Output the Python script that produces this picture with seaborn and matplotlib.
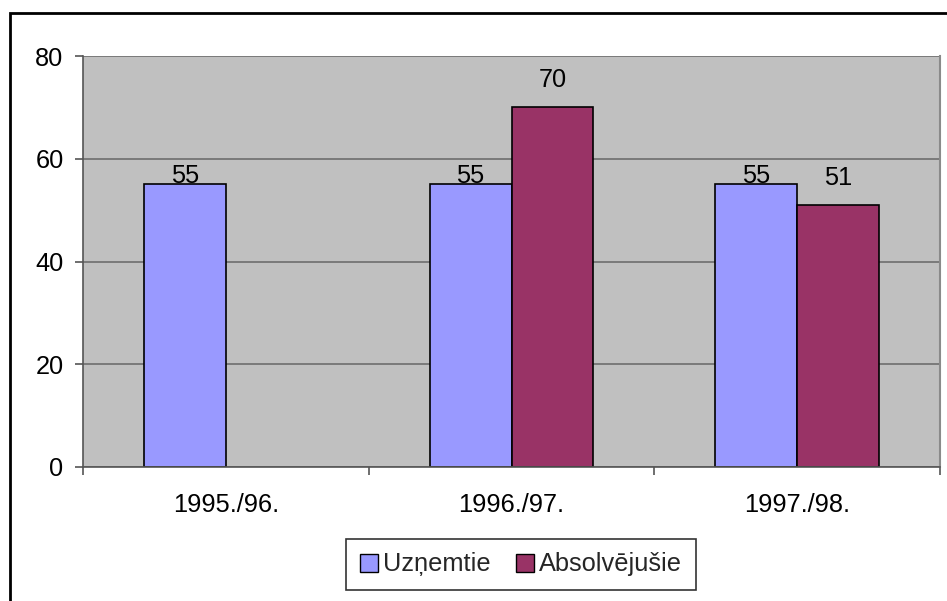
import matplotlib
matplotlib.use("Agg")
import matplotlib.pyplot as plt
import seaborn as sns
import pandas as pd
import numpy as np
from matplotlib.patches import Rectangle, Patch

categories = ["1995./96.", "1996./97.", "1997./98."]
series_names = ["Uzņemtie", "Absolvējušie"]
uznemtie = [55, 55, 55]
absolvejusie = [np.nan, 70, 51]
y_ticks = [0, 20, 40, 60, 80]
colors = ["#9999FF", "#993366"]

rows = []
for c, v in zip(categories, uznemtie):
    rows.append({"cat": c, "series": series_names[0], "val": v})
for c, v in zip(categories, absolvejusie):
    rows.append({"cat": c, "series": series_names[1], "val": v})
df = pd.DataFrame(rows)

sns.set_theme(style="white")
plt.rcParams["font.family"] = ["Liberation Sans", "DejaVu Sans"]

FS = 18.3

fig = plt.figure(figsize=(9.47, 6.01), dpi=100)
ax = fig.add_axes([83/947, 1-467/601, (940-83)/947, (467-56)/601])

sns.barplot(data=df, x="cat", y="val", hue="series", order=categories,
            hue_order=series_names, palette=colors, width=0.574,
            edgecolor="black", linewidth=1.2, saturation=1, ax=ax,
            legend=False, errorbar=None)

ax.set_facecolor("#C0C0C0")
ax.set_ylim(0, 80)
ax.set_xlim(-0.5, 2.5)
ax.set_yticks(y_ticks)
ax.set_yticklabels([str(t) for t in y_ticks], fontsize=FS)
ax.set_xlabel("")
ax.set_ylabel("")
ax.yaxis.grid(True, color="#6e6e6e", linewidth=1.2)
ax.set_axisbelow(True)
ax.spines["top"].set_visible(False)
ax.spines["left"].set_color("#555555")
ax.spines["bottom"].set_color("#555555")
ax.spines["right"].set_color("#8a8a8a")
ax.spines["left"].set_linewidth(1.2)
ax.spines["bottom"].set_linewidth(1.2)
ax.spines["right"].set_linewidth(1.5)

ax.tick_params(axis="y", direction="out", length=6, width=1.2, color="#555555",
               left=True, pad=8, labelsize=FS, labelcolor="black")
ax.set_xticks([0, 1, 2])
ax.set_xticklabels(categories, fontsize=FS)
ax.tick_params(axis="x", bottom=False, pad=13, labelsize=FS, labelcolor="black")
ax.set_xticks([-0.5, 0.5, 1.5, 2.5], minor=True)
ax.tick_params(axis="x", which="minor", bottom=True, direction="out", length=6,
               width=1.2, color="#555555")

# value labels
label_offsets = {series_names[0]: 0.3, series_names[1]: 3.9}
for container, name in zip(ax.containers, series_names):
    for p in container.patches:
        h = p.get_height()
        if h is None or np.isnan(h) or h == 0:
            continue
        ax.text(p.get_x() + p.get_width()/2, h + label_offsets[name],
                f"{int(round(h))}", ha="center", va="baseline",
                fontsize=FS, color="black")

handles = [Patch(facecolor=colors[i], edgecolor="black", linewidth=1.0)
           for i in range(2)]
leg = fig.legend(handles, series_names, loc="center",
                 bbox_to_anchor=(521/947, 1-564.5/601), ncol=2, fontsize=FS,
                 frameon=True, fancybox=False, handlelength=0.7,
                 handleheight=0.7, handletextpad=0.2, columnspacing=1.0,
                 borderpad=0.55)
leg.get_frame().set_edgecolor("black")
leg.get_frame().set_linewidth(1.2)

# figure border (left and top visible)
fig.patches.append(Rectangle((10/947, -0.1), 1.2, 1.1 - 13/601,
                             transform=fig.transFigure, fill=False,
                             edgecolor="black", linewidth=2.0, zorder=10))

fig.savefig("out.png", dpi=100)
